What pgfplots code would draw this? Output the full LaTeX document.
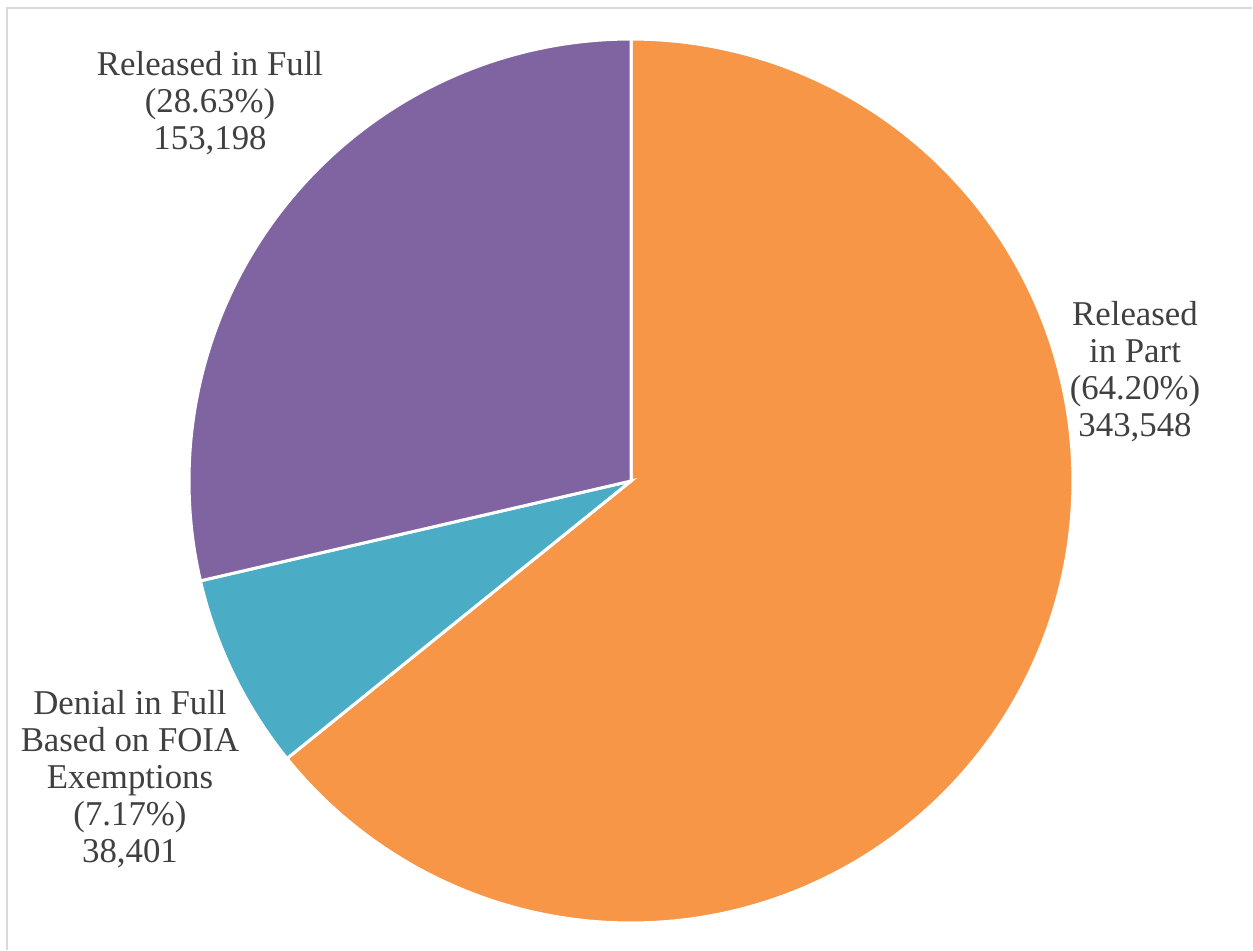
\documentclass[border=0pt]{standalone}
\usepackage{fontspec}
\setmainfont{Liberation Serif}
\usepackage{pgfplots}
\pgfplotsset{compat=1.18}
\usepackage{pgfplotstable}

\definecolor{cPart}{HTML}{F79646}
\definecolor{cDen}{HTML}{4BACC6}
\definecolor{cFull}{HTML}{8064A2}
\definecolor{txt}{HTML}{404040}
\definecolor{frm}{HTML}{D9D9D9}

\pgfplotstableread{
label value
Part 343548
Denial 38401
Full 153198
}\piedata

\pgfplotstablegetelem{0}{value}\of\piedata \let\vA\pgfplotsretval
\pgfplotstablegetelem{1}{value}\of\piedata \let\vB\pgfplotsretval
\pgfplotstablegetelem{2}{value}\of\piedata \let\vC\pgfplotsretval
\edef\aA{\fpeval{90-360*\vA/(\vA+\vB+\vC)}}
\edef\aB{\fpeval{\aA-360*\vB/(\vA+\vB+\vC)}}
\edef\aC{\fpeval{\aB-360*\vC/(\vA+\vB+\vC)}}

\begin{document}
\begin{tikzpicture}[lbl/.style={font=\fontsize{17.4pt}{18.5pt}\selectfont, text=txt, align=center, inner sep=0pt}]
\begin{axis}[width=626.5pt,height=475pt,scale only axis,
  xmin=0,xmax=1253,ymin=0,ymax=950,axis lines=none,clip=false]
\addplot[draw=white,line width=1.5pt,fill=cPart,domain=\aA:90,samples=200,variable=\t]
  ({631+442*cos(\t)},{469+442*sin(\t)}) -- (axis cs:631,469) -- cycle;
\addplot[draw=white,line width=1.5pt,fill=cDen,domain=\aB:\aA,samples=60,variable=\t]
  ({631+442*cos(\t)},{469+442*sin(\t)}) -- (axis cs:631,469) -- cycle;
\addplot[draw=white,line width=1.5pt,fill=cFull,domain=\aC:\aB,samples=150,variable=\t]
  ({631+442*cos(\t)},{469+442*sin(\t)}) -- (axis cs:631,469) -- cycle;
\draw[frm,line width=1pt] (axis cs:7,0) -- (axis cs:7,942) -- (axis cs:1252,942);
\node[lbl] at (axis cs:210,847) {Released in Full\\(28.63\%)\\153,198};
\node[lbl] at (axis cs:1135,578.5) {Released\\in Part\\(64.20\%)\\343,548};
\node[lbl] at (axis cs:130,171) {Denial in Full\\Based on FOIA\\Exemptions\\(7.17\%)\\38,401};
\end{axis}
\pgfresetboundingbox
\path[use as bounding box] (current axis.south west) rectangle (current axis.north east);
\end{tikzpicture}
\end{document}
